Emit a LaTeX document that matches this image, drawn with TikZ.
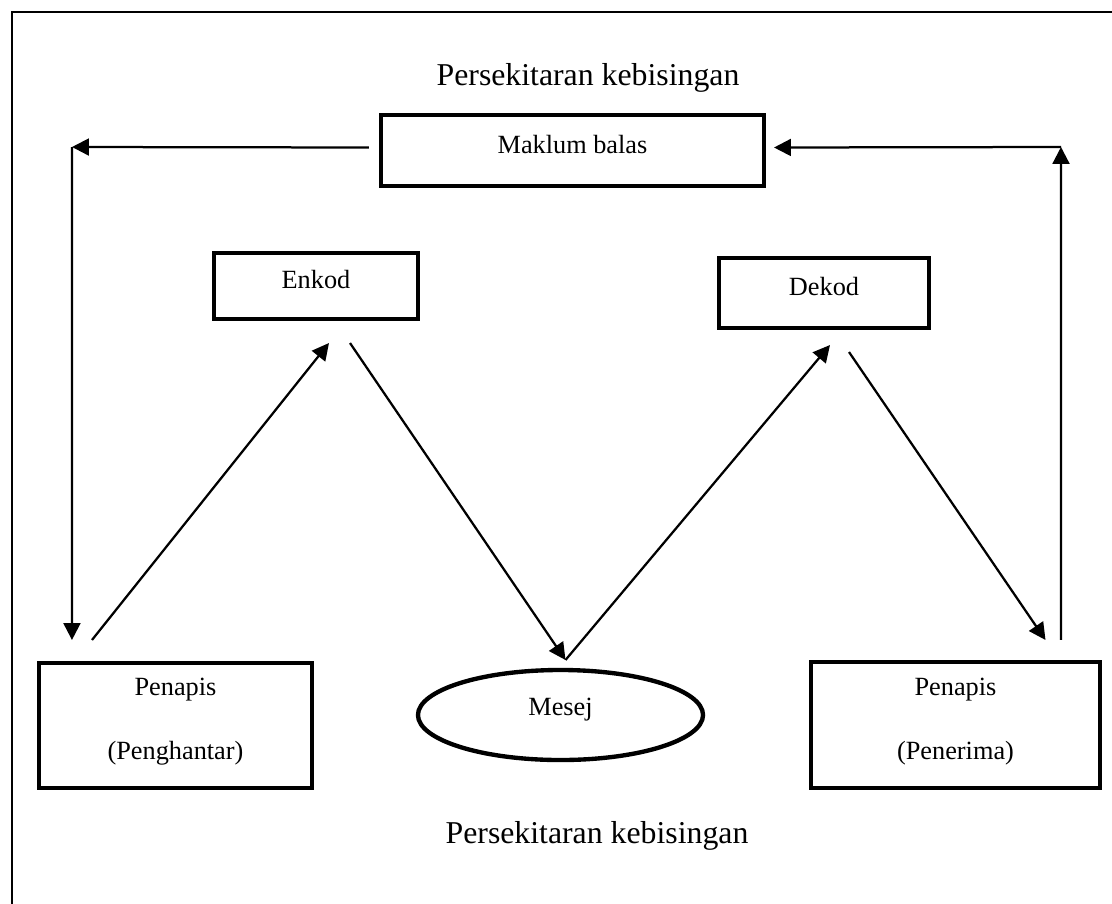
\documentclass[tikz,border=0pt]{standalone}
\usepackage{fontspec}
\setmainfont{Liberation Serif}
\usepackage{tikz}
\usetikzlibrary{shapes.geometric, arrows.meta, positioning, calc}

\begin{document}
\begin{tikzpicture}[x=0.025cm, y=-0.025cm]
% Define styles
\tikzstyle{box} = [rectangle, draw=black, line width=3.1pt, outer sep=0pt, text centered, align=center, inner sep=0pt, text depth=9pt, font=\fontsize{18.7}{22}\selectfont]
\tikzstyle{msg} = [ellipse, draw=black, line width=3.1pt, outer sep=0pt, inner sep=0pt, text depth=12pt, font=\fontsize{18.7}{22}\selectfont]
\tikzstyle{env} = [font=\fontsize{22.6}{27}\selectfont]
\tikzstyle{arrow} = [-{Triangle[length=12pt, width=12pt]}, line width=1.6pt, draw=black]
% Page and frame
\useasboundingbox (0,0) rectangle (1112,903);
\draw[line width=1.6pt] (12,12) rectangle (1140,930);
% Define nodes
\node[env] (EnvTop) at (588,78) {Persekitaran kebisingan};
\node[box, minimum width=9.575cm, minimum height=1.775cm] (MaklumBalas) at (572.5,150.5) {Maklum balas};
\node[box, minimum width=5.1cm, minimum height=1.65cm] (Enkod) at (316,286) {Enkod};
\node[box, minimum width=5.25cm, minimum height=1.75cm] (Dekod) at (824,293) {Dekod};
\node[box, minimum width=6.825cm, minimum height=3.125cm] (Penghantar) at (175.5,725.5) {Penapis\\[23.5pt](Penghantar)};
\node[msg, minimum width=7.125cm, minimum height=2.25cm] (Mesej) at (560.5,715) {Mesej};
\node[box, minimum width=7.225cm, minimum height=3.15cm] (Penerima) at (955.5,725) {Penapis\\[23.5pt](Penerima)};
\node[env] (EnvBottom) at (597,836) {Persekitaran kebisingan};
% Feedback corners
\coordinate (FeedLeft) at (72,147);
\coordinate (FeedRight) at (1061,147);
% Relationships (arrows)
\draw[arrow] ($(MaklumBalas.west)+(-12,-3)$) -- (FeedLeft);
\draw[arrow] (FeedLeft) -- ($(Penghantar.north west)+(33,-23)$);
\draw[arrow] ($(Penghantar.north west)+(53,-23)$) -- ($(Enkod.south)+(13,24)$);
\draw[arrow] ($(Enkod.south)+(34,24)$) -- ($(Mesej.north)+(5,-10)$);
\draw[arrow] ($(Mesej.north)+(5,-10)$) -- ($(Dekod.south)+(6,17)$);
\draw[arrow] ($(Dekod.south)+(25,24)$) -- ($(Penerima.north)+(90,-22)$);
\draw[arrow] ($(Penerima.north)+(105.5,-22)$) -- (FeedRight);
\draw[arrow] (FeedRight) -- ($(MaklumBalas.east)+(10,-3)$);
\end{tikzpicture}
\end{document}
